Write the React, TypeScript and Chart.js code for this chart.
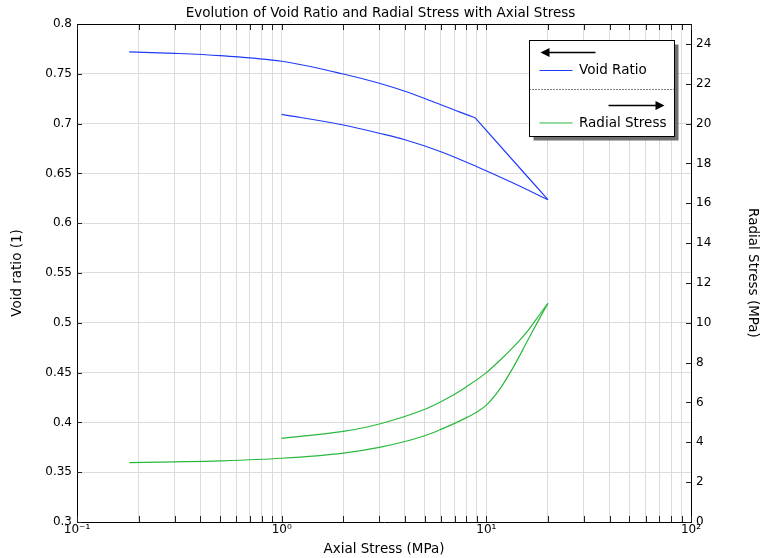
import React, { useEffect, useRef } from "react";
import { Chart, registerables } from "chart.js";

Chart.register(...registerables);

// ---- data ----
// loading, first stage (void ratio and radial stress share the stresses)
const stressLoad1 = [0.18, 0.3, 0.5, 1, 2, 3, 4, 5, 6, 7, 8, 8.8];
const voidLoad1 = [0.772, 0.7705, 0.7682, 0.7626, 0.7498, 0.7405, 0.7325, 0.7252, 0.7189, 0.7136, 0.709, 0.7059];
const radialLoad1 = [2.98, 3.02, 3.07, 3.2, 3.46, 3.75, 4.04, 4.33, 4.65, 4.95, 5.24, 5.46];

// loading, second stage
const stressLoad2Void = [8.8, 20];
const voidLoad2 = [0.7059, 0.6236];
const stressLoad2Radial = [8.8, 10, 11.7, 13.6, 15.8, 18.4, 20];
const radialLoad2 = [5.46, 5.87, 6.71, 7.8, 9.05, 10.31, 10.98];

// unloading
const stressUnloadVoid = [1, 2, 3, 4, 6, 9, 13.6, 20];
const voidUnload = [0.7093, 0.6986, 0.6903, 0.6838, 0.6718, 0.6567, 0.6401, 0.6236];
const stressUnloadRadial = [1, 2, 3, 4.9, 6, 7, 8, 10, 11.7, 13.6, 15.8, 18.4, 20];
const radialUnload = [4.2, 4.55, 4.92, 5.62, 6.04, 6.41, 6.79, 7.5, 8.13, 8.8, 9.55, 10.48, 10.98];

const xMajorTicks = [0.1, 1, 10, 100];
const xMajorLabels = ["10\u207B\u00B9", "10\u2070", "10\u00B9", "10\u00B2"];
const leftTicks = [0.3, 0.35, 0.4, 0.45, 0.5, 0.55, 0.6, 0.65, 0.7, 0.75, 0.8];
const leftLabels = ["0.3", "0.35", "0.4", "0.45", "0.5", "0.55", "0.6", "0.65", "0.7", "0.75", "0.8"];
const rightTicks = [0, 2, 4, 6, 8, 10, 12, 14, 16, 18, 20, 22, 24];

const seriesNames = ["Void Ratio", "Radial Stress"];
const title = "Evolution of Void Ratio and Radial Stress with Axial Stress";

const BLUE = "rgb(30,60,250)";
const GREEN = "rgb(40,185,60)";
const FONT = "DejaVu Sans";
const TEXT_SIZE = 13.5;

function pts(xs: number[], ys: number[]) {
  return xs.map((x, i) => ({ x, y: ys[i] }));
}

function minorLogTicks(): number[] {
  const out: number[] = [];
  for (let e = -1; e <= 1; e++) {
    for (let m = 1; m <= 9; m++) out.push(Number((m * Math.pow(10, e)).toPrecision(3)));
  }
  out.push(100);
  return out;
}

const tickMarksPlugin = {
  id: "tickMarks",
  afterDatasetsDraw(chart: any) {
    const { ctx, chartArea } = chart;
    const { left, right, top, bottom } = chartArea;
    const xs = chart.scales.x;
    const y = chart.scales.y;
    const y2 = chart.scales.y2;
    ctx.save();
    ctx.strokeStyle = "#222";
    ctx.lineWidth = 1;
    ctx.beginPath();
    xs.ticks.forEach((t: any) => {
      const px = Math.round(xs.getPixelForValue(t.value)) + 0.5;
      ctx.moveTo(px, bottom);
      ctx.lineTo(px, bottom - 6);
      ctx.moveTo(px, top);
      ctx.lineTo(px, top + 6);
    });
    y.ticks.forEach((t: any) => {
      const py = Math.round(y.getPixelForValue(t.value)) + 0.5;
      ctx.moveTo(left, py);
      ctx.lineTo(left + 5, py);
    });
    y2.ticks.forEach((t: any) => {
      const py = Math.round(y2.getPixelForValue(t.value)) + 0.5;
      ctx.moveTo(right, py);
      ctx.lineTo(right - 5, py);
    });
    ctx.stroke();
    ctx.beginPath();
    ctx.strokeStyle = "#000";
    ctx.moveTo(left, Math.round(top) + 0.5);
    ctx.lineTo(right, Math.round(top) + 0.5);
    ctx.stroke();
    ctx.restore();
  },
};

const legendBoxPlugin = {
  id: "legendBox",
  afterDraw(chart: any) {
    const { ctx, chartArea } = chart;
    const bx = Math.round(chartArea.right - 162) + 0.5;
    const by = Math.round(chartArea.top + 16) + 0.5;
    const bw = 145;
    const bh = 96;
    ctx.save();
    ctx.fillStyle = "#707070";
    ctx.fillRect(bx + 4, by + 4, bw, bh);
    ctx.fillStyle = "#fff";
    ctx.fillRect(bx, by, bw, bh);
    ctx.strokeStyle = "#000";
    ctx.lineWidth = 1;
    ctx.strokeRect(bx, by, bw, bh);

    const drawArrow = (x1: number, x2: number, yy: number, dir: number) => {
      ctx.strokeStyle = "#000";
      ctx.fillStyle = "#000";
      ctx.lineWidth = 1.6;
      ctx.beginPath();
      ctx.moveTo(x1, yy);
      ctx.lineTo(x2, yy);
      ctx.stroke();
      const tip = dir < 0 ? x1 - 3 : x2 + 3;
      ctx.beginPath();
      ctx.moveTo(tip, yy);
      ctx.lineTo(tip - dir * 9, yy - 4.5);
      ctx.lineTo(tip - dir * 9, yy + 4.5);
      ctx.closePath();
      ctx.fill();
    };

    ctx.font = `${TEXT_SIZE}px "${FONT}"`;
    ctx.textBaseline = "middle";
    ctx.textAlign = "left";

    drawArrow(bx + 14, bx + 66, by + 12, -1);
    ctx.strokeStyle = BLUE;
    ctx.lineWidth = 1.2;
    ctx.beginPath();
    ctx.moveTo(bx + 10, by + 30);
    ctx.lineTo(bx + 43, by + 30);
    ctx.stroke();
    ctx.fillStyle = "#000";
    ctx.fillText(seriesNames[0], bx + 49.5, by + 30);

    ctx.strokeStyle = "#000";
    ctx.lineWidth = 1;
    ctx.setLineDash([1, 2]);
    ctx.beginPath();
    ctx.moveTo(bx, by + 49);
    ctx.lineTo(bx + bw, by + 49);
    ctx.stroke();
    ctx.setLineDash([]);

    drawArrow(bx + 79, bx + 132, by + 65, 1);
    ctx.strokeStyle = GREEN;
    ctx.lineWidth = 1.2;
    ctx.beginPath();
    ctx.moveTo(bx + 10, by + 82.5);
    ctx.lineTo(bx + 43, by + 82.5);
    ctx.stroke();
    ctx.fillStyle = "#000";
    ctx.fillText(seriesNames[1], bx + 49.5, by + 82.5);
    ctx.restore();
  },
};

export default function App() {
  const ref = useRef<HTMLCanvasElement | null>(null);

  useEffect(() => {
    if (!ref.current) return;
    Chart.defaults.font.family = FONT;
    Chart.defaults.color = "#000";
    const common = { pointRadius: 0, borderWidth: 1.2, fill: false, cubicInterpolationMode: "monotone" as const };
    const chart = new Chart(ref.current, {
      type: "line",
      data: {
        datasets: [
          { label: seriesNames[0], data: pts(stressLoad1, voidLoad1), borderColor: BLUE, yAxisID: "y", ...common },
          { label: seriesNames[0], data: pts(stressLoad2Void, voidLoad2), borderColor: BLUE, yAxisID: "y", ...common },
          { label: seriesNames[0], data: pts(stressUnloadVoid, voidUnload), borderColor: BLUE, yAxisID: "y", ...common },
          { label: seriesNames[1], data: pts(stressLoad1, radialLoad1), borderColor: GREEN, yAxisID: "y2", ...common },
          { label: seriesNames[1], data: pts(stressLoad2Radial, radialLoad2), borderColor: GREEN, yAxisID: "y2", ...common },
          { label: seriesNames[1], data: pts(stressUnloadRadial, radialUnload), borderColor: GREEN, yAxisID: "y2", ...common },
        ],
      },
      options: {
        responsive: false,
        animation: false,
        devicePixelRatio: 1,
        layout: { padding: 0 },
        plugins: {
          legend: { display: false },
          tooltip: { enabled: false },
          title: {
            display: true,
            text: title,
            color: "#000",
            font: { size: TEXT_SIZE, weight: "normal", family: FONT },
            padding: { top: 5.5, bottom: 2.3 },
          },
        },
        scales: {
          x: {
            type: "logarithmic",
            position: "bottom",
            min: 0.1,
            max: 100,
            afterBuildTicks: (s: any) => {
              s.ticks = minorLogTicks().map((v) => ({ value: v, major: xMajorTicks.includes(v) }));
            },
            afterFit: (s: any) => {
              s.height = 36;
            },
            ticks: {
              autoSkip: false,
              maxRotation: 0,
              padding: 1,
              color: "#000",
              font: { size: 12, family: FONT },
              callback: (v: any) => {
                const i = xMajorTicks.indexOf(Number(v));
                return i >= 0 ? xMajorLabels[i] : "";
              },
            },
            grid: { color: "#dcdcdc", drawTicks: false, lineWidth: 1 },
            border: { display: true, color: "#000", width: 1 },
            title: {
              display: true,
              text: "Axial Stress (MPa)",
              color: "#000",
              font: { size: TEXT_SIZE, family: FONT },
              padding: { top: 0, bottom: 0.5 },
            },
          },
          y: {
            type: "linear",
            position: "left",
            min: 0.3,
            max: 0.8,
            afterBuildTicks: (s: any) => {
              s.ticks = leftTicks.map((v) => ({ value: v }));
            },
            afterFit: (s: any) => {
              s.width = 77;
            },
            ticks: {
              padding: 5,
              color: "#000",
              font: { size: 12, family: FONT },
              callback: (v: any) => {
                const i = leftTicks.findIndex((t) => Math.abs(t - Number(v)) < 1e-9);
                return i >= 0 ? leftLabels[i] : "";
              },
            },
            grid: { color: "#dcdcdc", drawTicks: false, lineWidth: 1 },
            border: { display: true, color: "#000", width: 1 },
            title: {
              display: true,
              text: "Void ratio (1)",
              color: "#000",
              font: { size: TEXT_SIZE, family: FONT },
              padding: { top: 9, bottom: 0 },
            },
          },
          y2: {
            type: "linear",
            position: "right",
            min: 0,
            max: 25,
            afterBuildTicks: (s: any) => {
              s.ticks = rightTicks.map((v) => ({ value: v }));
            },
            afterFit: (s: any) => {
              s.width = 70;
            },
            ticks: {
              padding: 5,
              color: "#000",
              font: { size: 12, family: FONT },
              callback: (v: any) => String(v),
            },
            grid: { display: false, drawTicks: false },
            border: { display: true, color: "#000", width: 1 },
            title: {
              display: true,
              text: "Radial Stress (MPa)",
              color: "#000",
              font: { size: TEXT_SIZE, family: FONT },
              padding: { top: 0, bottom: 0 },
            },
          },
        },
      } as any,
      plugins: [tickMarksPlugin, legendBoxPlugin],
    });
    return () => chart.destroy();
  }, []);

  return (
    <div style={{ position: "absolute", left: 0, top: 0, width: 761, height: 558, background: "#fff" }}>
      <canvas ref={ref} width={761} height={558} style={{ display: "block" }} />
    </div>
  );
}
